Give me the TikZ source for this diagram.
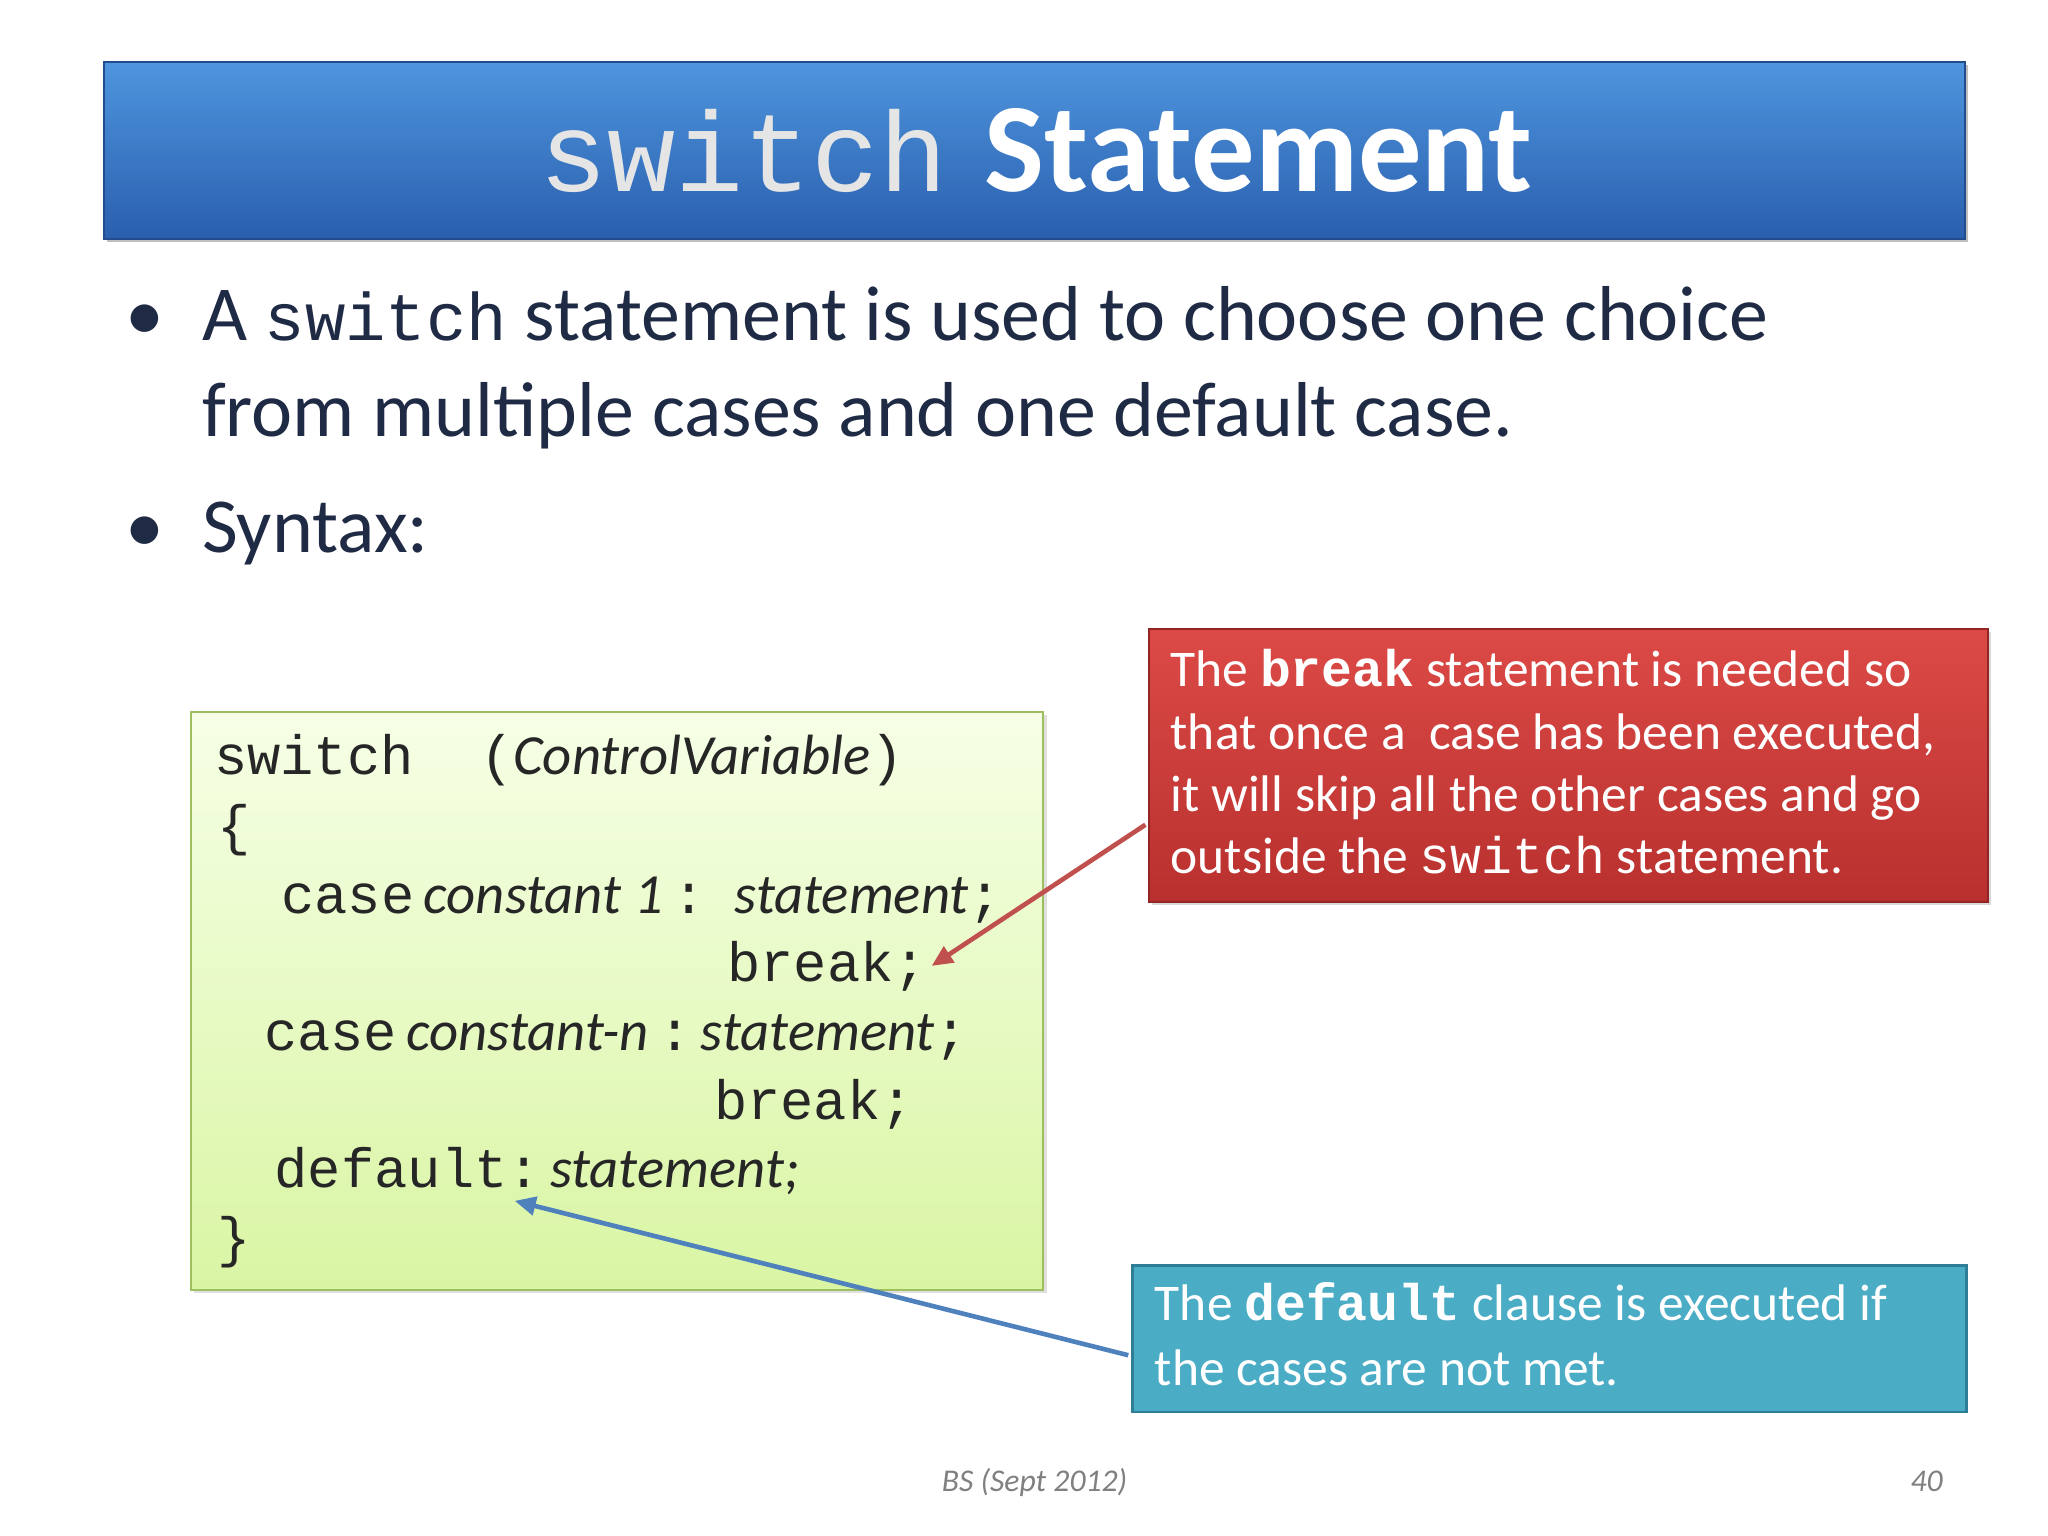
\documentclass[tikz,border=0pt]{standalone}
\usepackage{fontspec}
\setmainfont{Carlito}
\setmonofont{Liberation Mono}
\usetikzlibrary{arrows.meta,shadows}
\definecolor{txt}{HTML}{1F2A44}
\definecolor{tblue1}{HTML}{4F95DE}
\definecolor{tblue2}{HTML}{2A5FAE}
\definecolor{gtop}{HTML}{F6FFE6}
\definecolor{gbot}{HTML}{D9F5A3}
\definecolor{gborder}{HTML}{9DBF5E}
\definecolor{rtop}{HTML}{DC4A46}
\definecolor{rbot}{HTML}{B8302E}
\definecolor{bfill}{HTML}{4BACC6}
\definecolor{bborder}{HTML}{2D7E96}
\definecolor{rarrow}{HTML}{C0504D}
\definecolor{barrow}{HTML}{4F81BD}
\newcommand{\codeit}[1]{{\rmfamily\itshape\fontsize{43}{48}\selectfont #1}}
\tikzset{
 code/.style={anchor=base west,inner sep=0pt,font=\fontsize{42}{48}\selectfont\ttfamily,text=black!85},
 bul/.style={anchor=base west,inner sep=0pt,font=\fontsize{59}{66}\selectfont,text=txt},
 note/.style={anchor=base west,inner sep=0pt,font=\fontsize{39}{44}\selectfont,text=white},
 foot/.style={anchor=base,inner sep=0pt,font=\fontsize{24}{28}\selectfont\itshape,text=gray},
}
\begin{document}
\begin{tikzpicture}[x=1pt,y=-1pt]
\useasboundingbox (0,0) rectangle (1552,1164);
\fill[white] (0,0) rectangle (1552,1164);
% title
\node[draw=tblue2!80!black,line width=1.5pt,top color=tblue1,bottom color=tblue2,minimum width=1410pt,minimum height=134pt,inner sep=0pt,anchor=north west,drop shadow] (title) at (78,46) {};
\node[anchor=base,inner sep=0pt,text=white] (ttext) at (785,145) {{\fontsize{86}{90}\selectfont\ttfamily\color{black!10}switch}\hspace{28pt}{\fontsize{96}{100}\selectfont\bfseries Statement}};
% bullets
\node[bul] (b1) at (95,258) {•};
\node[bul] (l1) at (153,258) {A {\fontsize{51}{56}\selectfont\ttfamily switch} statement is used to choose one choice};
\node[bul] (l2) at (153,331) {from multiple cases and one default case.};
\node[bul] (b2) at (95,419) {•};
\node[bul] (l3) at (153,419) {Syntax:};
% code box
\node[draw=gborder,line width=1.5pt,top color=gtop,bottom color=gbot,minimum width=646pt,minimum height=438pt,inner sep=0pt,anchor=north west,drop shadow={opacity=0.25}] (codebox) at (144,539) {};
\node[code] (c1) at (162,587) {switch~~(\codeit{ControlVariable\/})};
\node[code] (c2) at (165,640) {\{};
\node[code] (c3) at (213,692) {case\,\codeit{constant 1}\,:\hspace{22pt}\codeit{statement};};
\node[code] (c4) at (551,744) {break;};
\node[code] (c5) at (200,796) {case\,\codeit{constant-n}\,:\,\codeit{statement};};
\node[code] (c6) at (541,848) {break;};
\node[code] (c7) at (208,900) {default:\,\codeit{statement;}};
\node[code] (c8) at (165,952) {\}};
% red note
\node[draw=rbot!80!black,line width=1.5pt,top color=rtop,bottom color=rbot,minimum width=636pt,minimum height=207pt,inner sep=0pt,anchor=north west,drop shadow={opacity=0.3}] (red) at (870,476) {};
\node[note] (r1) at (887,520) {The {\ttfamily\bfseries break} statement is needed so};
\node[note] (r2) at (887,568) {that once a~ case has been executed,};
\node[note] (r3) at (887,615) {it will skip all the other cases and go};
\node[note] (r4) at (887,662) {outside the {\ttfamily switch} statement.};
% blue note
\node[draw=bborder,line width=2pt,fill=bfill,minimum width=632pt,minimum height=111pt,inner sep=0pt,anchor=north west] (blue) at (857,958) {};
\node[note] (u1) at (875,1001) {The {\ttfamily\bfseries default} clause is executed if};
\node[note] (u2) at (875,1050) {the cases are not met.};
% arrows
\coordinate (rs) at (868,625);
\coordinate (rt) at (706,732);
\coordinate (bs) at (855,1027);
\coordinate (bt) at (390,910);
\draw[rarrow,line width=3.5pt,-{Triangle[length=16pt,width=14pt]}] (rs) -- (rt);
\draw[barrow,line width=3.5pt,-{Triangle[length=16pt,width=14pt]}] (bs) -- (bt);
% footer
\node[foot] (f1) at (784,1130) {BS (Sept 2012)};
\node[foot] (f2) at (1460,1130) {40};
\end{tikzpicture}
\end{document}
